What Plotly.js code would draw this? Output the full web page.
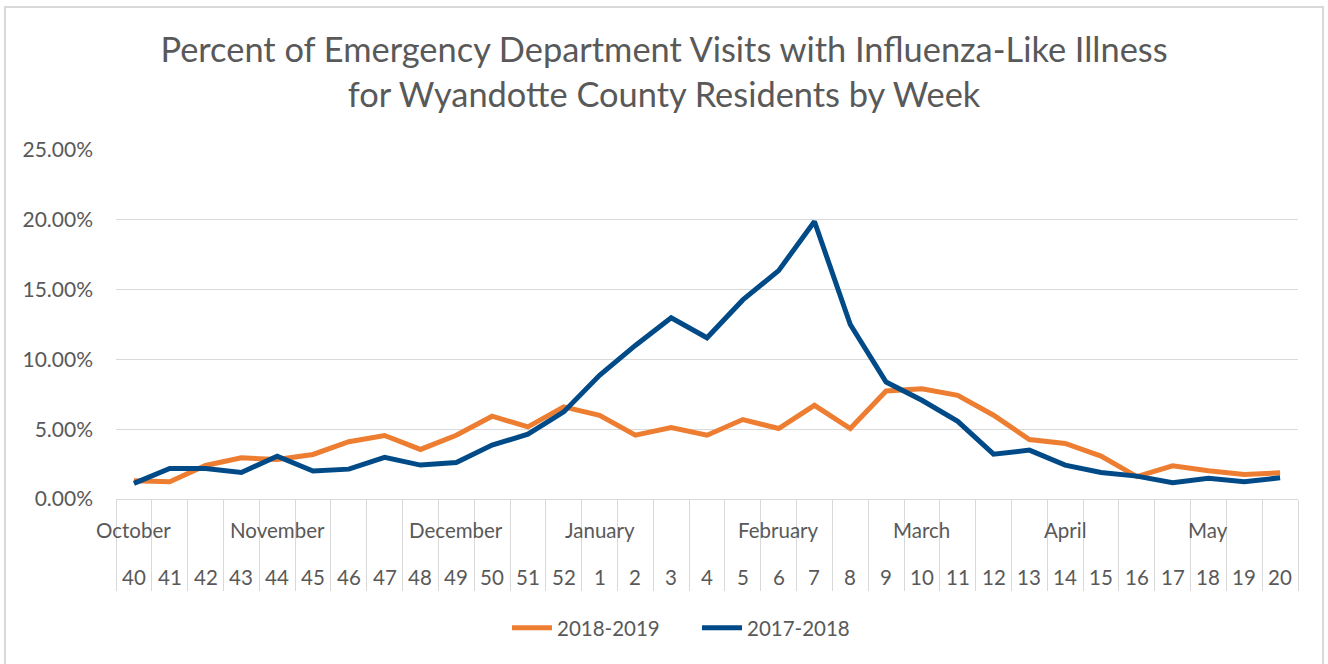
<!DOCTYPE html>
<html>
<head>
<meta charset="utf-8">
<script src="https://cdn.plot.ly/plotly-3.0.1.min.js"></script>
<style>
  html, body { margin: 0; padding: 0; background: #ffffff; }
  #wrap { position: relative; width: 1328px; height: 664px; }
  #chart { width: 1328px; height: 664px; }
  #frame { position: absolute; left: 4px; top: 6px; width: 1320px; height: 664px;
           border-left: 2px solid #d9d9d9; border-top: 2px solid #d9d9d9; border-right: 2px solid #d9d9d9;
           pointer-events: none; box-sizing: border-box; }
</style>
</head>
<body>
<div id="wrap">
  <div id="chart"></div>
  <div id="frame"></div>
</div>
<script>
// Week numbers (category labels)
const weeks = ["40","41","42","43","44","45","46","47","48","49","50","51","52",
               "1","2","3","4","5","6","7","8","9","10","11","12","13","14","15","16","17","18","19","20"];
// Month labels and the week each is centred over
const months = ["October","November","December","January","February","March","April","May"];
const monthWeeks = ["40","44","49","1","6","10","14","18"];

// Percent of ED visits with ILI
const season2018_2019 = [1.31,1.24,2.40,2.95,2.83,3.19,4.10,4.55,3.55,4.57,5.93,5.17,6.60,
                         6.00,4.57,5.12,4.57,5.69,5.05,6.71,5.05,7.74,7.90,7.43,6.00,4.26,3.98,3.07,1.60,2.38,2.02,1.76,1.88];
const season2017_2018 = [1.12,2.19,2.19,1.90,3.07,2.00,2.14,2.98,2.43,2.62,3.86,4.64,6.24,
                         8.86,11.00,12.98,11.55,14.26,16.36,19.88,12.50,8.38,7.07,5.56,3.21,3.50,2.43,1.90,1.64,1.17,1.48,1.24,1.52];

const FONT = "Lato, 'Open Sans', sans-serif";
const GREY = "#595959";
const SMALL = 20.5;

// category positions (index of each week)
const xIdx = weeks.map((w, i) => i);
const boundaries = weeks.map((w, i) => i - 0.5).concat([weeks.length - 0.5]);

const traces = [
  { x: xIdx, y: season2018_2019, type: "scatter", mode: "lines", name: "2018-2019",
    line: { color: "#ED7D31", width: 5, shape: "linear" }, hoverinfo: "skip" },
  { x: xIdx, y: season2017_2018, type: "scatter", mode: "lines", name: "2017-2018",
    line: { color: "#004A87", width: 5, shape: "linear" }, hoverinfo: "skip" }
];

const annotations = [];
weeks.forEach((w, i) => {
  annotations.push({ x: i, xref: "x", y: 0, yref: "paper", text: w, showarrow: false,
    xanchor: "center", yanchor: "middle", yshift: -78, font: { family: FONT, size: SMALL, color: GREY } });
});
months.forEach((m, i) => {
  annotations.push({ x: weeks.indexOf(monthWeeks[i]), xref: "x", y: 0, yref: "paper", text: m, showarrow: false,
    xanchor: "center", yanchor: "middle", yshift: -31, font: { family: FONT, size: SMALL, color: GREY } });
});

const layout = {
  width: 1328, height: 664,
  margin: { l: 116, r: 30, t: 150, b: 165, pad: 0 },
  paper_bgcolor: "#ffffff", plot_bgcolor: "#ffffff",
  font: { family: FONT, color: GREY },
  title: {
    text: "Percent of Emergency Department Visits with Influenza-Like Illness<br>for Wyandotte County Residents by Week",
    x: 0.5, xref: "container", xanchor: "center",
    y: 1 - 62 / 664, yref: "container", yanchor: "middle",
    font: { family: FONT, size: 34.4, color: GREY }
  },
  xaxis: {
    range: [-0.5, weeks.length - 0.5],
    tickmode: "array", tickvals: boundaries, ticktext: boundaries.map(() => ""),
    showticklabels: false, ticks: "outside", ticklen: 91, tickwidth: 1, tickcolor: "#d9d9d9",
    showgrid: false, showline: true, linecolor: "#d9d9d9", linewidth: 1,
    zeroline: false, fixedrange: true
  },
  yaxis: {
    range: [0, 25], dtick: 5, tick0: 0, tickformat: ".2f", ticksuffix: "%",
    showgrid: true, gridcolor: "#d9d9d9", gridwidth: 1, zeroline: false, showline: false,
    ticks: "", ticklabelstandoff: 22,
    tickfont: { family: FONT, size: 21, color: GREY }, fixedrange: true
  },
  showlegend: true,
  legend: {
    orientation: "h", x: (697 - 116) / 1182, xanchor: "center", y: (499 - 628) / 349, yanchor: "middle",
    font: { family: FONT, size: SMALL, color: GREY }, itemwidth: 40, traceorder: "normal",
    entrywidth: 135, entrywidthmode: "pixels"
  },
  annotations: annotations
};

Plotly.newPlot("chart", traces, layout, { staticPlot: true, displayModeBar: false });
</script>
</body>
</html>
